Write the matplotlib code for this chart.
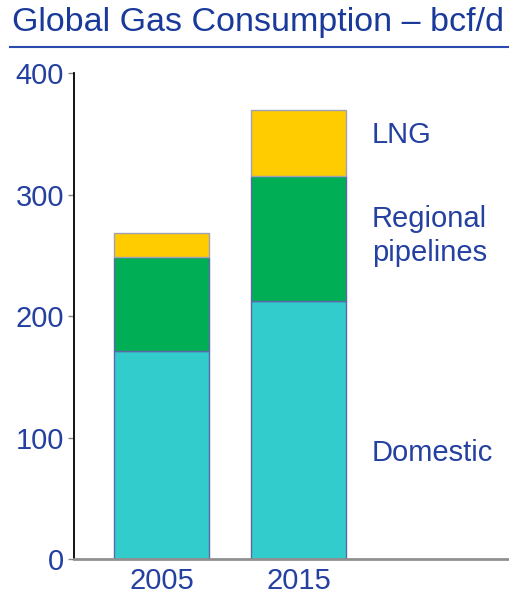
import matplotlib
matplotlib.use('Agg')
import matplotlib.pyplot as plt
from matplotlib.lines import Line2D

# data (bcf/d)
years = ['2005', '2015']
domestic = [171, 212]
pipelines = [78, 103]
lng = [19, 55]

blue = '#2440a0'
plt.rcParams['font.family'] = ['Liberation Sans', 'DejaVu Sans']

fig = plt.figure(figsize=(5.10, 6.09), dpi=100)
ax = fig.add_axes([0.145, 0.082, 0.855, 0.798])

x = [0, 1]
w = 0.69
ec = '#5a68a8'
ax.bar(x, domestic, w, color='#33cccc', edgecolor=ec, linewidth=1)
bot2 = domestic
ax.bar(x, pipelines, w, bottom=bot2, color='#00af55', edgecolor=ec, linewidth=1)
bot3 = [d + p for d, p in zip(domestic, pipelines)]
ax.bar(x, lng, w, bottom=bot3, color='#ffcc00', edgecolor='#a0a0b8', linewidth=1)

ax.set_xlim(-0.636, 2.535)
ax.set_ylim(0, 400)
ax.set_yticks([0, 100, 200, 300, 400])
ax.set_xticks(x)
ax.set_xticklabels(years)
ax.tick_params(axis='y', colors='#888888', labelcolor=blue, labelsize=21,
               length=4, width=1, direction='out', pad=3)
ax.tick_params(axis='x', length=0, labelcolor=blue, labelsize=21, pad=6)
for s in ['top', 'right']:
    ax.spines[s].set_visible(False)
ax.spines['left'].set_color('black')
ax.spines['left'].set_linewidth(1.3)
ax.spines['bottom'].set_color('#909090')
ax.spines['bottom'].set_linewidth(2)

# series labels
ax.text(1.53, 349, 'LNG', color=blue, fontsize=21, va='center')
ax.text(1.53, 266, 'Regional\npipelines', color=blue, fontsize=21, va='center',
        linespacing=1.25)
ax.text(1.53, 87, 'Domestic', color=blue, fontsize=21, va='center')

# title with underline
fig.text(0.024, 0.963, 'Global Gas Consumption \u2013 bcf/d', color='#1a3a9a',
         fontsize=24.5, va='center')
fig.add_artist(Line2D([0.02, 1.0], [0.923, 0.923], color='#2a4ab0', lw=1.5))

fig.savefig('out.png', dpi=100)
